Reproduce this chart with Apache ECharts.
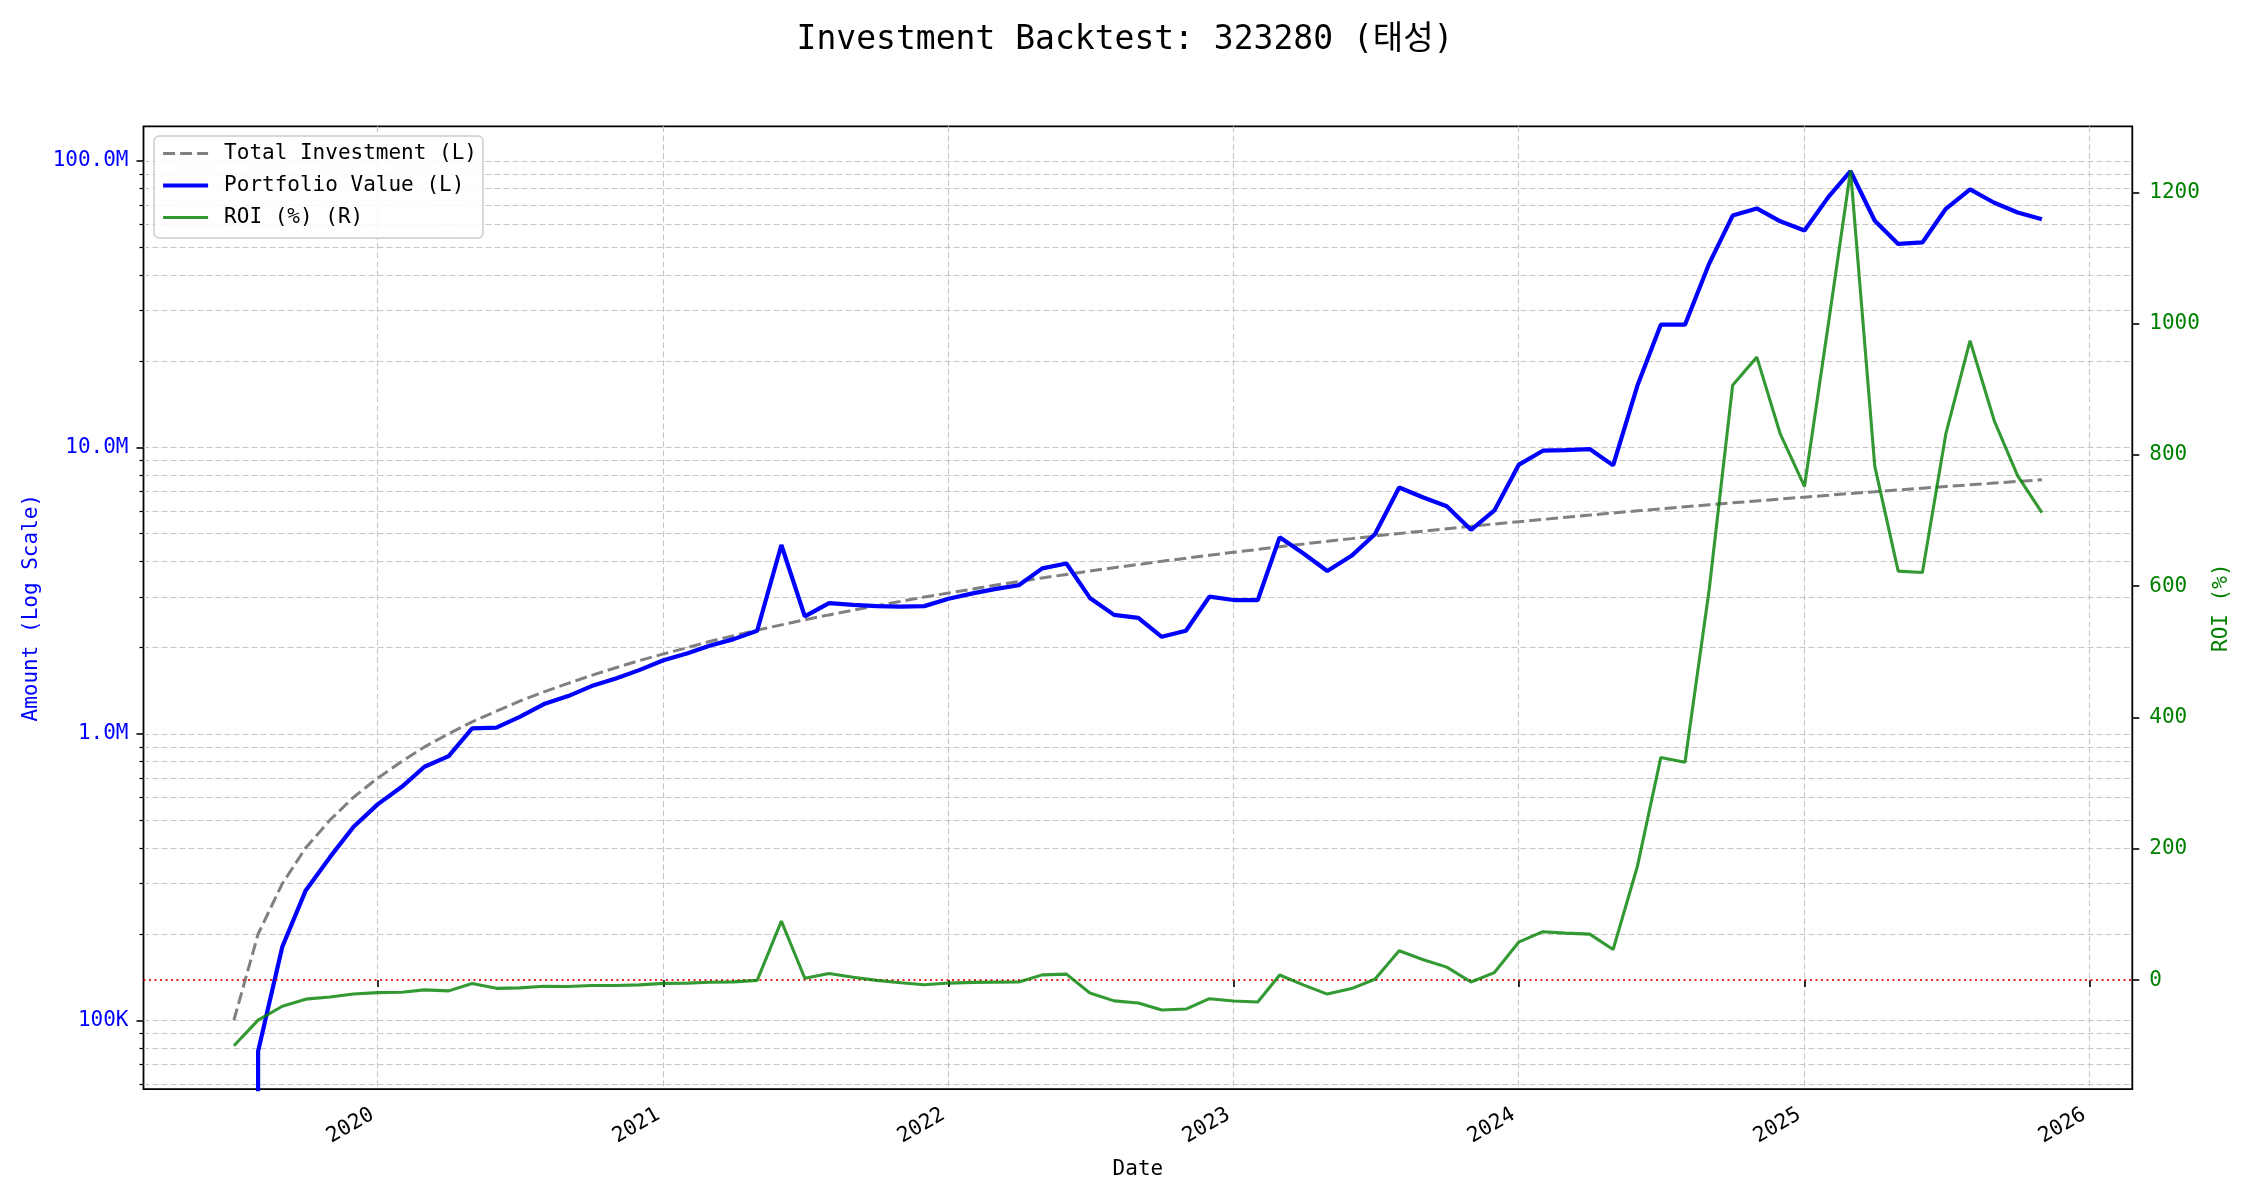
<!DOCTYPE html>
<html>
<head>
<meta charset="utf-8">
<script src="https://cdn.jsdelivr.net/npm/echarts@6/dist/echarts.min.js"></script>
<style>html,body{margin:0;padding:0;background:#fff}#chart{width:2250px;height:1200px}</style>
</head>
<body>
<div id="chart"></div>
<script>
// ---------------- data ----------------
const months = [
 '2019-07-01','2019-08-01','2019-09-01','2019-10-01','2019-11-01','2019-12-01',
 '2020-01-01','2020-02-01','2020-03-01','2020-04-01','2020-05-01','2020-06-01',
 '2020-07-01','2020-08-01','2020-09-01','2020-10-01','2020-11-01','2020-12-01',
 '2021-01-01','2021-02-01','2021-03-01','2021-04-01','2021-05-01','2021-06-01',
 '2021-07-01','2021-08-01','2021-09-01','2021-10-01','2021-11-01','2021-12-01',
 '2022-01-01','2022-02-01','2022-03-01','2022-04-01','2022-05-01','2022-06-01',
 '2022-07-01','2022-08-01','2022-09-01','2022-10-01','2022-11-01','2022-12-01',
 '2023-01-01','2023-02-01','2023-03-01','2023-04-01','2023-05-01','2023-06-01',
 '2023-07-01','2023-08-01','2023-09-01','2023-10-01','2023-11-01','2023-12-01',
 '2024-01-01','2024-02-01','2024-03-01','2024-04-01','2024-05-01','2024-06-01',
 '2024-07-01','2024-08-01','2024-09-01','2024-10-01','2024-11-01','2024-12-01',
 '2025-01-01','2025-02-01','2025-03-01','2025-04-01','2025-05-01','2025-06-01',
 '2025-07-01','2025-08-01','2025-09-01','2025-10-01','2025-11-01'
];
const totalInvestment = [
 100000,200000,300000,400000,500000,600000,
 700000,800000,900000,1000000,1100000,1200000,
 1300000,1400000,1500000,1600000,1700000,1800000,
 1900000,2000000,2100000,2200000,2300000,2400000,
 2500000,2600000,2700000,2800000,2900000,3000000,
 3100000,3200000,3300000,3400000,3500000,3600000,
 3700000,3800000,3900000,4000000,4100000,4200000,
 4300000,4400000,4500000,4600000,4700000,4800000,
 4900000,5000000,5100000,5200000,5300000,5400000,
 5500000,5600000,5700000,5800000,5900000,6000000,
 6100000,6200000,6300000,6400000,6500000,6600000,
 6700000,6800000,6900000,7000000,7100000,7200000,
 7300000,7400000,7500000,7600000,7700000
];
const portfolioValue = [
 0,78000,180500,284000,371000,473000,
 567000,653000,767000,836000,1045000,1050000,
 1146000,1270000,1354000,1467000,1560000,1668000,
 1806000,1910000,2030000,2140000,2290000,4560000,
 2570000,2860000,2820000,2790000,2780000,2790000,
 2960000,3090000,3200000,3300000,3780000,3930000,
 2980000,2600000,2540000,2180000,2290000,3010000,
 2930000,2930000,4850000,4250000,3700000,4180000,
 4970000,7240000,6680000,6230000,5150000,6020000,
 8680000,9730000,9780000,9860000,8650000,16400000,
 26800000,26800000,43800000,64400000,68200000,61500000,
 57100000,75000000,92000000,61800000,51300000,51900000,
 68000000,79500000,71400000,66000000,62500000
];
const roiPct = [
 -100,-61,-39.8,-29,-25.8,-21.2,
 -19,-18.4,-14.8,-16.4,-5,-12.5,
 -11.8,-9.3,-9.7,-8.3,-8.2,-7.3,
 -4.9,-4.5,-3.3,-2.7,-0.4,90,
 2.8,10,4.4,-0.4,-4.1,-7,
 -4.5,-3.4,-3,-2.9,8,9.2,
 -19.5,-31.6,-34.9,-45.5,-44.1,-28.3,
 -31.9,-33.4,7.8,-7.6,-21.3,-12.9,
 1.4,44.8,31,19.8,-2.8,11.5,
 57.8,73.8,71.6,70,46.6,173,
 339,332,595,906,949,832,
 752,1003,1233,783,623,621,
 832,974,852,768,712
];
const yearTicks = ['2020-01-01','2021-01-01','2022-01-01','2023-01-01','2024-01-01','2025-01-01','2026-01-01'];
const yearTickLabels = ['2020','2021','2022','2023','2024','2025','2026'];
const leftMajorTicks = [100000, 1000000, 10000000, 100000000];
const leftTickLabels = ['100K', '1.0M', '10.0M', '100.0M'];
const leftMinorTicks = [
 60000,70000,80000,90000,
 200000,300000,400000,500000,600000,700000,800000,900000,
 2000000,3000000,4000000,5000000,6000000,7000000,8000000,9000000,
 20000000,30000000,40000000,50000000,60000000,70000000,80000000,90000000
];
const roiTicks = [0, 200, 400, 600, 800, 1000, 1200];
const roiTickLabels = ['0', '200', '400', '600', '800', '1000', '1200'];

// ---------------- layout / style ----------------
const FONT = "'DejaVu Sans Mono', 'Noto Sans CJK KR', monospace";
const GRID_LINE = { color: '#c6c6c6', width: 1.1, type: [6, 3] };
const STYLE_INVEST = { color: '#808080', width: 3, type: [12, 5] };
const STYLE_PV = { color: '#0000ff', width: 4.2, type: 'solid' };
const STYLE_ROI = { color: 'rgba(0,128,0,0.8)', width: 3.1, type: 'solid' };
const times = months.map(s => Date.parse(s));
const span = times[times.length - 1] - times[0];
const xMin = times[0] - 0.05 * span;
const xMax = times[times.length - 1] + 0.05 * span;
const yearTickValues = yearTicks.map(s => Date.parse(s));

function labelFor(v, values, labels) {
  for (let i = 0; i < values.length; i++) {
    if (values[i] === 0 ? Math.abs(v) < 1e-9 : Math.abs(v / values[i] - 1) < 1e-6) return labels[i];
  }
  return '';
}

// matplotlib clips non-positive values on a log axis to a tiny positive number
const pvPlot = portfolioValue.map(v => (v > 0 ? v : 1e-300));

const chart = echarts.init(document.getElementById('chart'), null, { renderer: 'canvas' });

const option = {
  animation: false,
  backgroundColor: '#ffffff',
  textStyle: { fontFamily: FONT },
  title: {
    text: 'Investment Backtest: 323280 (태성)',
    left: 'center',
    top: 19,
    textStyle: { fontFamily: FONT, fontSize: 33, fontWeight: 'normal', color: '#000' }
  },
  grid: {
    left: 143.5, top: 126.3, width: 1988.8, height: 962.8,
    show: true, borderColor: '#000', borderWidth: 1.8, backgroundColor: 'transparent',
    containLabel: false, outerBoundsMode: 'none'
  },
  legend: {
    orient: 'vertical',
    left: 154, top: 136,
    data: [
      { name: 'Total Investment (L)', lineStyle: { width: STYLE_INVEST.width, type: STYLE_INVEST.type, color: STYLE_INVEST.color } },
      { name: 'Portfolio Value (L)', lineStyle: { width: STYLE_PV.width, type: 'solid', color: STYLE_PV.color } },
      { name: 'ROI (%) (R)', lineStyle: { width: STYLE_ROI.width, type: 'solid', color: STYLE_ROI.color } }
    ],
    itemWidth: 45, itemHeight: 14, itemGap: 11,
    padding: [7, 6, 10, 7],
    itemStyle: { opacity: 0 },
    backgroundColor: 'rgba(255,255,255,0.85)',
    borderColor: '#cccccc', borderWidth: 1.5, borderRadius: 5,
    textStyle: { fontFamily: FONT, fontSize: 21, color: '#000', padding: [0, 0, 0, 11] }
  },
  xAxis: {
    type: 'value', min: xMin, max: xMax, scale: true,
    axisLine: { show: false },
    axisTick: { show: true, length: 7, lineStyle: { color: '#000', width: 1.6 }, customValues: yearTickValues },
    axisLabel: {
      customValues: yearTickValues,
      rotate: 30, margin: 21, padding: [0, 6, 0, 0],
      formatter: v => labelFor(v, yearTickValues, yearTickLabels),
      fontFamily: FONT, fontSize: 21, color: '#000'
    },
    splitLine: { show: true, lineStyle: GRID_LINE },
    name: 'Date', nameLocation: 'middle', nameGap: 70,
    nameTextStyle: { fontFamily: FONT, fontSize: 21, color: '#000' }
  },
  yAxis: [
    {
      type: 'log', logBase: 10, min: 57500, max: 132000000, position: 'left',
      axisLine: { show: false },
      axisTick: { show: true, length: 7, lineStyle: { color: '#000', width: 1.6 }, customValues: leftMajorTicks },
      axisLabel: {
        customValues: leftMajorTicks, margin: 15,
        formatter: v => labelFor(v, leftMajorTicks, leftTickLabels),
        fontFamily: FONT, fontSize: 21, color: '#0000ff'
      },
      splitLine: { show: true, lineStyle: GRID_LINE },
      name: 'Amount (Log Scale)', nameLocation: 'middle', nameGap: 100,
      nameTextStyle: { fontFamily: FONT, fontSize: 21, color: '#0000ff' }
    },
    {
      type: 'value', min: -166, max: 1300.6, position: 'right',
      axisLine: { show: false },
      axisTick: { show: true, length: 7, lineStyle: { color: '#000', width: 1.6 }, customValues: roiTicks },
      axisLabel: {
        customValues: roiTicks, margin: 17,
        formatter: v => labelFor(v, roiTicks, roiTickLabels),
        fontFamily: FONT, fontSize: 21, color: '#008000'
      },
      splitLine: { show: false },
      name: 'ROI (%)', nameLocation: 'middle', nameGap: 55,
      nameTextStyle: { fontFamily: FONT, fontSize: 21, color: '#008000' }
    },
    {
      type: 'log', logBase: 10, min: 57500, max: 132000000, position: 'left',
      axisLine: { show: false },
      axisTick: { show: true, length: 4, lineStyle: { color: '#000', width: 1.2 }, customValues: leftMinorTicks },
      axisLabel: { show: false },
      splitLine: { show: true, lineStyle: GRID_LINE }
    }
  ],
  series: [
    {
      name: 'zero', type: 'line', yAxisIndex: 1, data: [], silent: true, z: 1,
      markLine: {
        silent: true, symbol: ['none', 'none'], label: { show: false },
        lineStyle: { color: 'rgba(230,0,0,0.85)', width: 1.8, type: [2, 3.5] },
        emphasis: { disabled: true },
        data: [{ yAxis: 0 }]
      }
    },
    {
      name: 'Total Investment (L)', type: 'line', yAxisIndex: 0, z: 3,
      data: times.map((t, i) => [t, totalInvestment[i]]),
      symbol: 'none', showSymbol: false,
      lineStyle: STYLE_INVEST,
      itemStyle: { color: STYLE_INVEST.color }
    },
    {
      name: 'Portfolio Value (L)', type: 'line', yAxisIndex: 0, z: 4,
      data: times.map((t, i) => [t, pvPlot[i]]),
      symbol: 'none', showSymbol: false,
      lineStyle: STYLE_PV,
      itemStyle: { color: STYLE_PV.color }
    },
    {
      name: 'ROI (%) (R)', type: 'line', yAxisIndex: 1, z: 5,
      data: times.map((t, i) => [t, roiPct[i]]),
      symbol: 'none', showSymbol: false,
      lineStyle: STYLE_ROI,
      itemStyle: { color: STYLE_ROI.color }
    }
  ]
};
chart.setOption(option);
</script>
</body>
</html>
